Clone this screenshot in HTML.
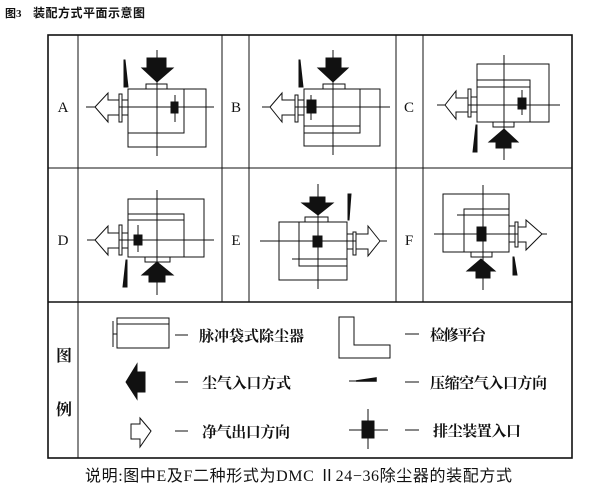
<!DOCTYPE html>
<html><head><meta charset="utf-8"><style>
html,body{margin:0;padding:0;background:#fff;}
svg{display:block;}
text{font-family:"Liberation Serif","Noto Serif CJK SC",serif;fill:#111;}
.cj{font-family:"Liberation Serif","Noto Sans CJK SC",sans-serif;font-weight:bold;}
</style></head><body>
<svg width="600" height="498" viewBox="0 0 600 498" xmlns="http://www.w3.org/2000/svg">
<g fill="none" stroke="#111" stroke-width="1">
<text x="5" y="17" class="cj" font-size="11" stroke="none">图3</text>
<text x="33" y="17" class="cj" font-size="12" stroke="none" textLength="112">装配方式平面示意图</text>
<rect x="48" y="35" width="524" height="423" stroke-width="1.6"/>
<line x1="78" y1="35" x2="78" y2="458"/>
<line x1="48" y1="168" x2="572" y2="168"/>
<line x1="48" y1="302" x2="572" y2="302" stroke-width="1.4"/>
<line x1="222" y1="35" x2="222" y2="302"/>
<line x1="249" y1="35" x2="249" y2="302"/>
<line x1="396" y1="35" x2="396" y2="302"/>
<line x1="423" y1="35" x2="423" y2="302"/>
</g>
<g font-size="15" text-anchor="middle">
<text x="63" y="112">A</text><text x="236" y="112">B</text><text x="409" y="112">C</text>
<text x="63" y="245">D</text><text x="236" y="245">E</text><text x="409" y="245">F</text>
</g>
<g fill="none" stroke="#111" stroke-width="1">
<!-- A -->
<line x1="157" y1="50" x2="157" y2="156"/><line x1="86" y1="107" x2="214" y2="107"/>
<rect x="128" y="89" width="78" height="58"/>
<polyline points="184,89 184,133 128,133"/>
<rect x="146" y="84" width="21" height="5"/>
<polygon points="147,58 166,58 166,68 173,68 157,82 142,68 147,68" fill="#111"/>
<rect x="119" y="94" width="3" height="28"/><rect x="122" y="100" width="6" height="15"/>
<polygon points="95,107 108,93 108,100 119,100 119,115 108,115 108,122" fill="#fff"/>
<polygon points="124,60 125,60 128,87 124,87" fill="#111"/>
<line x1="175" y1="95" x2="175" y2="122"/><rect x="171" y="102" width="7" height="11" fill="#111"/>
<!-- B -->
<line x1="333" y1="50" x2="333" y2="155"/><line x1="262" y1="107" x2="390" y2="107"/>
<rect x="304" y="89" width="76" height="57"/>
<polyline points="360,89 360,133 304,133"/><line x1="304" y1="126" x2="360" y2="126"/>
<rect x="323" y="84" width="22" height="5"/>
<polygon points="326,58 341,58 341,68 348,68 333,82 318,68 326,68" fill="#111"/>
<rect x="295" y="95" width="3" height="27"/><rect x="298" y="100" width="6" height="15"/>
<polygon points="270,107 282,93 282,100 295,100 295,115 282,115 282,122" fill="#fff"/>
<polygon points="299,60 300,60 303,87 299,87" fill="#111"/>
<line x1="311" y1="95" x2="311" y2="120"/><rect x="307" y="100" width="9" height="13" fill="#111"/>
<!-- C -->
<line x1="504" y1="55" x2="504" y2="160"/><line x1="437" y1="105" x2="560" y2="105"/>
<rect x="477" y="64" width="72" height="58"/>
<polyline points="477,80 530,80 530,122"/><line x1="477" y1="87" x2="530" y2="87"/>
<rect x="493" y="122" width="21" height="5"/>
<polygon points="504,129 518,142 511,142 511,148 496,148 496,142 489,142" fill="#111"/>
<rect x="468" y="89" width="3" height="28"/><rect x="471" y="97" width="6" height="15"/>
<polygon points="445,105 456,91 456,98 468,98 468,112 456,112 456,119" fill="#fff"/>
<polygon points="476,125 477,125 477,152 473,152" fill="#111"/>
<line x1="522" y1="90" x2="522" y2="115"/><rect x="518" y="98" width="8" height="11" fill="#111"/>
<!-- D -->
<line x1="157" y1="190" x2="157" y2="295"/><line x1="87" y1="240" x2="214" y2="240"/>
<rect x="128" y="199" width="76" height="58"/>
<polyline points="128,214 184,214 184,257"/><line x1="128" y1="220" x2="184" y2="220"/>
<rect x="145" y="257" width="25" height="5"/>
<polygon points="157,262 173,275 165,275 165,282 149,282 149,275 142,275" fill="#111"/>
<rect x="119" y="225" width="3" height="30"/><rect x="122" y="233" width="6" height="15"/>
<polygon points="95,240 108,226 108,233 119,233 119,248 108,248 108,255" fill="#fff"/>
<polygon points="126,260 127,260 127,287 123,287" fill="#111"/>
<line x1="138" y1="225" x2="138" y2="252"/><rect x="134" y="235" width="8" height="10" fill="#111"/>
<!-- E -->
<line x1="318" y1="184" x2="318" y2="289"/><line x1="260" y1="241" x2="387" y2="241"/>
<rect x="279" y="222" width="68" height="58"/>
<polyline points="299,222 299,266 347,266"/><line x1="292" y1="259" x2="347" y2="259"/>
<rect x="305" y="217" width="23" height="5"/>
<polygon points="310,197 325,197 325,203 333,203 318,215 302,203 310,203" fill="#111"/>
<rect x="347" y="234" width="6" height="15"/><rect x="353" y="232" width="3" height="23"/>
<polygon points="380,241 368,226 368,234 356,234 356,249 368,249 368,256" fill="#fff"/>
<polygon points="348,194 351,194 349,220 348,220" fill="#111"/>
<rect x="313" y="236" width="9" height="11" fill="#111"/>
<!-- F -->
<line x1="483" y1="185" x2="483" y2="290"/><line x1="434" y1="234" x2="547" y2="234"/>
<rect x="443" y="194" width="66" height="58"/>
<polyline points="509,209 464,209 464,252"/><line x1="457" y1="215" x2="509" y2="215"/>
<rect x="471" y="252" width="21" height="5"/>
<polygon points="481,259 495,271 490,271 490,278 476,278 476,271 467,271" fill="#111"/>
<rect x="509" y="226" width="6" height="16"/><rect x="515" y="222" width="3" height="25"/>
<polygon points="542,234 526,220 526,227 518,227 518,242 526,242 526,250" fill="#fff"/>
<polygon points="513,257 514,257 517,275 513,275" fill="#111"/>
<rect x="477" y="227" width="9" height="14" fill="#111"/>
<!-- legend -->
<rect x="117" y="318" width="52" height="30"/><line x1="117" y1="324" x2="169" y2="324"/>
<line x1="113" y1="321" x2="113" y2="347"/><line x1="113" y1="334" x2="117" y2="334"/>
<polygon points="339,317 354,317 354,345 390,345 390,358 339,358" fill="#fff"/>
<polygon points="126,382 137,364 137,372 145,372 145,392 137,392 137,399" fill="#111"/>
<line x1="349" y1="381" x2="376" y2="381"/><polygon points="356,381 376,378 376,381" fill="#111" stroke-width="1.5"/>
<polygon points="151,431 140,418 140,424 131,424 131,439 140,439 140,447" fill="#fff"/>
<line x1="349" y1="430" x2="388" y2="430"/><line x1="368" y1="409" x2="368" y2="449"/>
<rect x="362" y="421" width="12" height="17" fill="#111"/>
<line x1="175" y1="335" x2="188" y2="335"/><line x1="175" y1="382" x2="188" y2="382"/><line x1="175" y1="431" x2="188" y2="431"/>
<line x1="405" y1="334" x2="419" y2="334"/><line x1="405" y1="382" x2="419" y2="382"/><line x1="405" y1="430" x2="419" y2="430"/>
</g>
<g class="cj" font-size="15" stroke="none">
<text x="56" y="361" font-size="16">图</text>
<text x="56" y="415" font-size="16">例</text>
<text x="199" y="341" textLength="105">脉冲袋式除尘器</text>
<text x="202" y="388" textLength="89">尘气入口方式</text>
<text x="202" y="437" textLength="88">净气出口方向</text>
<text x="430" y="340" textLength="56">检修平台</text>
<text x="430" y="388" textLength="117">压缩空气入口方向</text>
<text x="433" y="436" textLength="88">排尘装置入口</text>
</g>
<text x="85" y="481" font-size="16" class="cj" style="font-weight:normal" textLength="427">说明:图中E及F二种形式为DMC Ⅱ24−36除尘器的装配方式</text>
</svg>
</body></html>
